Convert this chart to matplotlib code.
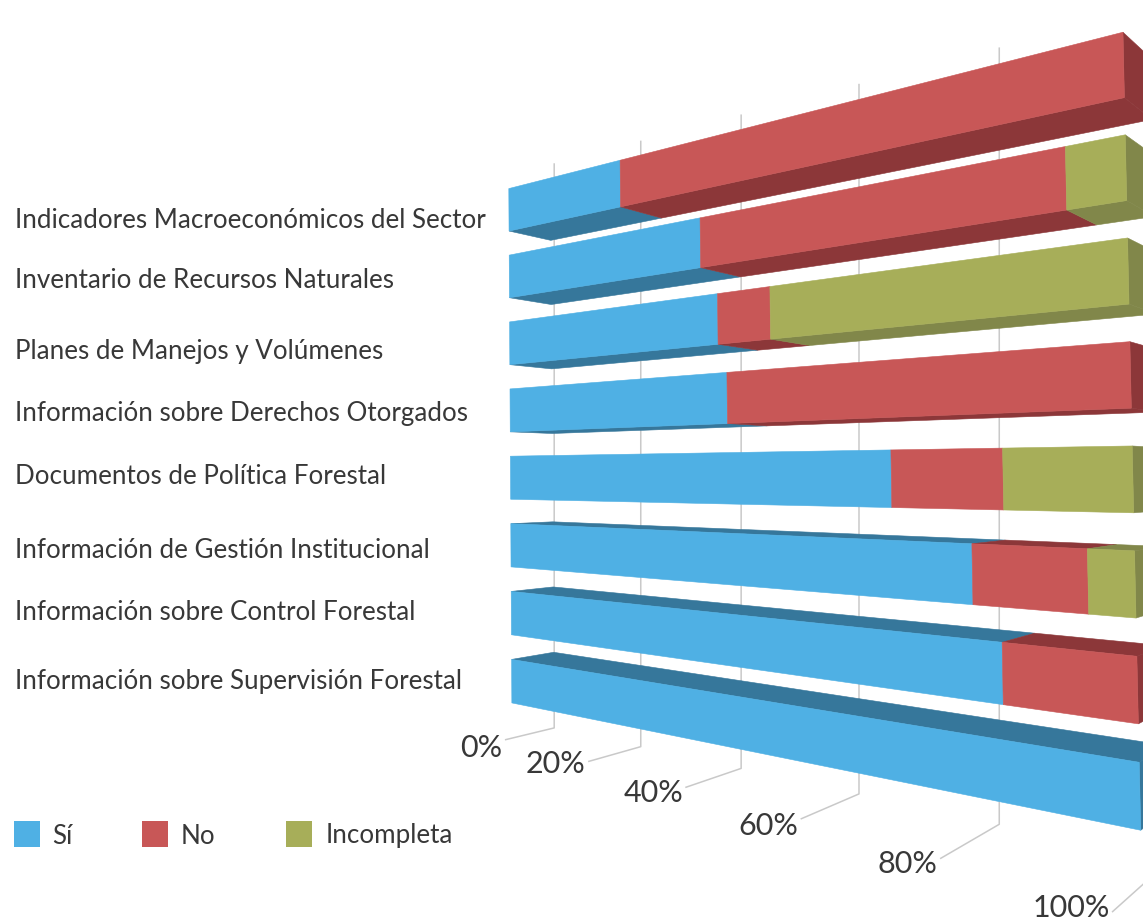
#!/usr/bin/env python3
"""
Stacked horizontal bars in perspective (two-point camera drawn by hand)
"""

import numpy as np
import matplotlib
matplotlib.use('Agg')
import matplotlib.pyplot as plt
from matplotlib.patches import Polygon, Rectangle

categories = ['Indicadores Macroeconómicos del Sector',
              'Inventario de Recursos Naturales',
              'Planes de Manejos y Volúmenes',
              'Información sobre Derechos Otorgados',
              'Documentos de Política Forestal',
              'Información de Gestión Institucional',
              'Información sobre Control Forestal',
              'Información sobre Supervisión Forestal']
si = [25.5, 41, 44, 45.5, 71, 81.5, 85, 100]
no = [74.5, 52.5, 9, 54.5, 14.5, 13.5, 15, 0]
incompleta = [0, 6.5, 47, 0, 14.5, 5, 0, 0]
series_names = ['Sí', 'No', 'Incompleta']
ticks = [0, 20, 40, 60, 80, 100]

FRONT = ['#4FB0E4', '#C85757', '#A7AE59']
DARK = ['#36779B', '#8C3739', '#81874A']
GRID = '#C9C9C9'
TEXT = '#383838'
plt.rcParams['font.family'] = ['Lato', 'DejaVu Sans']

# camera: image of (share, height, depth) in homogeneous pixels
ORIGIN = np.array([510.5, 473.0, 1.0])
ALONG = np.array([219.0, -169.0, -0.356])
UP = np.array([-0.00757, 1.0, -2.66e-5])
DEPTH = np.array([64.0, 19.0, 0.04])

ROW_TOP = -283
ROW_STEP = 66.6
ROW_H = 42.5
FLOOR = 260
GRID_TOP = -320
# how far each floor tick runs towards the viewer, and its label's drop
TICK_REACH = [0.145, 0.234, 0.343, 0.479, 0.66, 0.96]
TICK_LABEL_DY = [8, 3, 6, 7, 6, -4]
LABEL_Y = [221, 281, 351, 413, 477, 550, 612, 682]


def project(share, v, d=0.0):
    h = ORIGIN + share * ALONG + v * UP + d * DEPTH
    return h[0] / h[2], h[1] / h[2]


def face(ax, corners, color, z=2):
    pts = [project(*c) for c in corners]
    ax.add_patch(Polygon(pts, closed=True, facecolor=color, edgecolor=color,
                         linewidth=0.4, zorder=z))


def draw_bar(ax, row, values):
    top = ROW_TOP + ROW_STEP * row
    bot = top + ROW_H
    start = 0.0
    segs = []
    for k, val in enumerate(values):
        if val > 0:
            segs.append((k, start, start + val / 100))
            start += val / 100
    # faces seen from below or above first
    for k, a, b in segs:
        if bot < 0:
            face(ax, [(a, bot, 0), (b, bot, 0), (b, bot, 1), (a, bot, 1)], DARK[k])
        if top > 0:
            face(ax, [(a, top, 0), (b, top, 0), (b, top, 1), (a, top, 1)], DARK[k])
    k, a, b = segs[-1]
    face(ax, [(b, top, 0), (b, bot, 0), (b, bot, 1), (b, top, 1)], DARK[k])
    for k, a, b in segs:
        face(ax, [(a, top, 0), (b, top, 0), (b, bot, 0), (a, bot, 0)], FRONT[k])


fig = plt.figure(figsize=(11.43, 9.23), dpi=100)
ax = fig.add_axes([0, 0, 1, 1])
ax.set_xlim(0, 1143)
ax.set_ylim(923, 0)
ax.axis('off')

# walls and floor ticks
for t, reach, dy in zip(ticks, TICK_REACH, TICK_LABEL_DY):
    share = t / 100
    corner = project(share, FLOOR, 1)
    wall_top = project(share, GRID_TOP, 1)
    end = project(share, FLOOR, -reach)
    ax.plot([corner[0], corner[0], end[0]], [wall_top[1], corner[1], end[1]],
            color=GRID, lw=1.1, zorder=1)
    ax.text(end[0] - 3, end[1] + dy, f'{t}%', ha='right', va='center',
            fontsize=22, color=TEXT)

# outer rows first so the ones nearer the eye line cover their neighbours
for row in [0, 1, 2, 3, 7, 6, 5, 4]:
    draw_bar(ax, row, (si[row], no[row], incompleta[row]))

for name, y in zip(categories, LABEL_Y):
    ax.text(15, y, name, ha='left', va='center', fontsize=18.7, color=TEXT)

# legend
for name, color, bx, tx in zip(series_names, FRONT, [14, 142, 286], [52, 181, 326]):
    ax.add_patch(Rectangle((bx, 821), 26, 26, facecolor=color, edgecolor='none'))
    ax.text(tx, 836, name, ha='left', va='center', fontsize=18.7, color=TEXT)

plt.savefig('out.png', dpi=100, facecolor='white')
